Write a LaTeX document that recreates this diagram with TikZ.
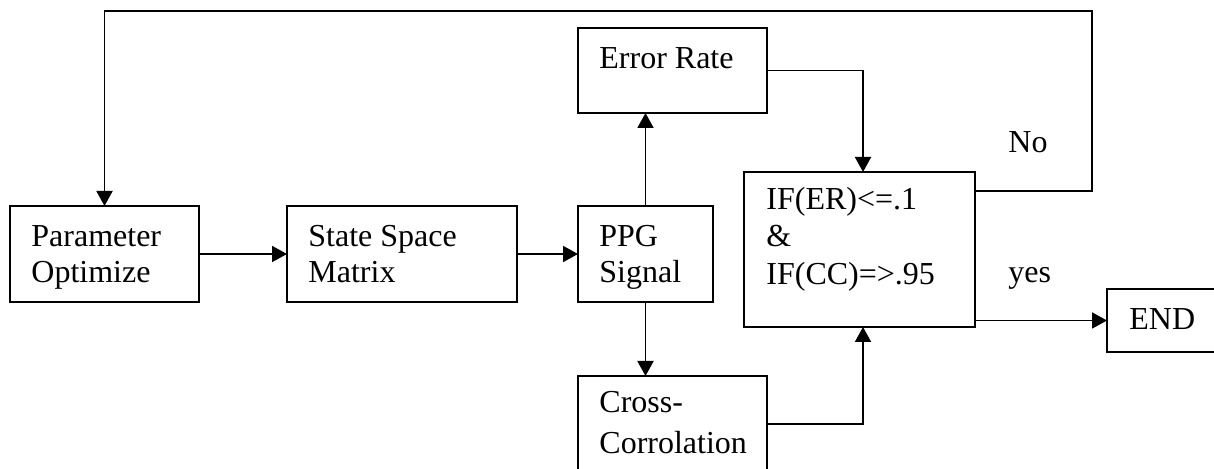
\documentclass[tikz,border=0pt]{standalone}
\usepackage{fontspec}
\setmainfont{Liberation Serif}
\usetikzlibrary{arrows.meta}
\begin{document}
\begin{tikzpicture}[x=0.5pt,y=-0.5pt,
  box/.style={draw, line width=0.8pt, inner sep=0pt, outer sep=0pt},
  lbl/.style={anchor=base west, inner sep=0pt, font=\fontsize{16pt}{18pt}\selectfont},
  arr/.style={line width=0.95pt, -{Triangle[length=7.5pt,width=8pt]}}]
\clip (0,0) rectangle (1214,469);
\useasboundingbox (0,0) rectangle (1214,469);
% boxes
\node[box, minimum width=94.5pt, minimum height=48pt] (param) at (104.5,254) {};
\node[box, minimum width=115pt, minimum height=48pt] (ssm) at (402,254) {};
\node[box, minimum width=67.5pt, minimum height=48pt] (ppg) at (645.5,254) {};
\node[box, minimum width=94.5pt, minimum height=42.5pt] (err) at (672.5,70.5) {};
\node[box, minimum width=94.5pt, minimum height=62pt] (cross) at (672.5,438) {};
\node[box, minimum width=115.5pt, minimum height=77.5pt] (ifb) at (859.5,249.5) {};
\node[box, minimum width=57.5pt, minimum height=31.5pt] (endb) at (1164.5,320.5) {};
% texts
\node[lbl] (p1) at (31,247) {Parameter};
\node[lbl] (p2) at (31,283) {Optimize};
\node[lbl] (s1) at (308,247) {State Space};
\node[lbl] (s2) at (308,283) {Matrix};
\node[lbl] (g1) at (599,247) {PPG};
\node[lbl] (g2) at (599,283) {Signal};
\node[lbl] (e1) at (599,69) {Error Rate};
\node[lbl] (c1) at (599,413) {Cross-};
\node[lbl] (c2) at (599,453) {Corrolation};
\node[lbl] (i1) at (766,210) {IF(ER)<=.1};
\node[lbl] (i2) at (766,247) {\&};
\node[lbl] (i3) at (766,285) {IF(CC)=>.95};
\node[lbl] (no) at (1008,153) {No};
\node[lbl] (yes) at (1008,283) {yes};
\node[lbl] (en) at (1129,330) {END};
% connectors
\coordinate (nr) at (1092,11);
\draw[arr] (param.east) -- (ssm.west);
\draw[arr] (ssm.east) -- (ppg.west);
\draw[arr] (ppg.north) -- (ppg.north |- err.south);
\draw[arr] (ppg.south) -- (ppg.south |- cross.north);
\draw[arr] (err.east) -| ([xshift=1.75pt]ifb.north);
\draw[arr] ([yshift=7pt]cross.east) -| ([xshift=1.75pt]ifb.south);
\draw[arr] ([yshift=29.25pt]ifb.east) -| (nr) -| (param.north);
\draw[arr] (ifb.east |- endb.west) -- (endb.west);
\end{tikzpicture}
\end{document}
